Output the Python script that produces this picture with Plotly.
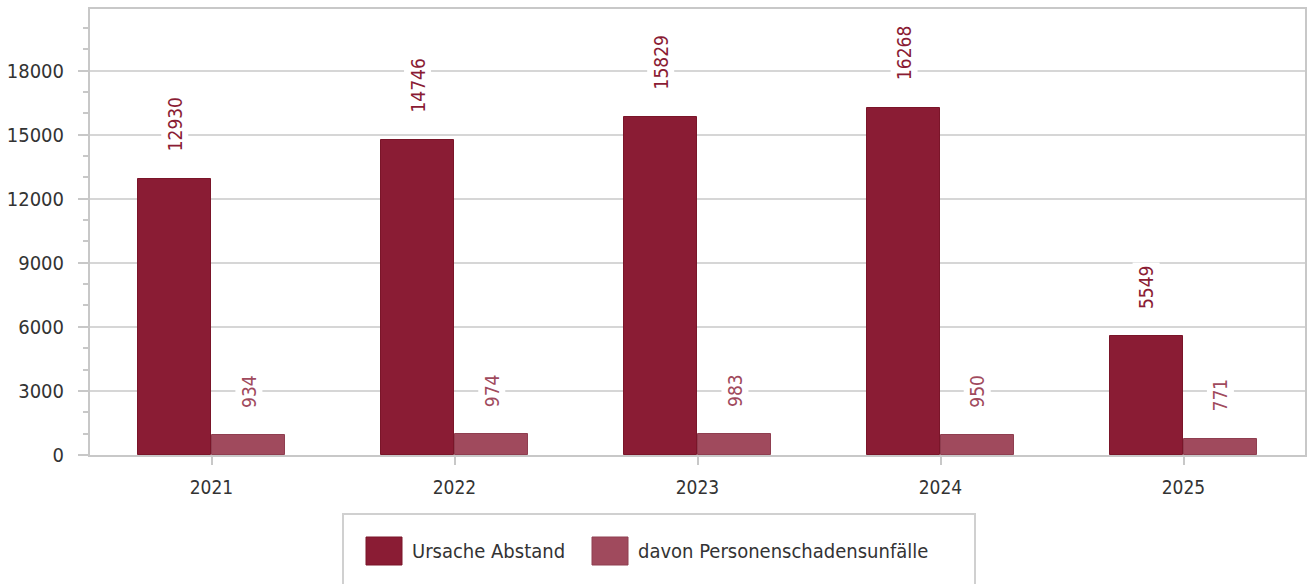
import plotly.graph_objects as go

years = ["2021", "2022", "2023", "2024", "2025"]
ursache_abstand = [12930, 14746, 15829, 16268, 5549]
personenschaden = [934, 974, 983, 950, 771]
series_names = ["Ursache Abstand", "davon Personenschadensunfälle"]
y_ticks = [0, 3000, 6000, 9000, 12000, 15000, 18000]

FONT = "DejaVu Sans Condensed, DejaVu Sans, sans-serif"
C1 = "#8a1c34"
C2 = "#a04a5d"
OFF = 0.152
W = 0.298

idx = list(range(len(years)))
fig = go.Figure()
fig.add_trace(go.Bar(x=[i - OFF for i in idx], y=ursache_abstand, width=W,
                     marker=dict(color=C1, line=dict(color="#7a1529", width=1)),
                     name=series_names[0], showlegend=False))
fig.add_trace(go.Bar(x=[i + OFF for i in idx], y=personenschaden, width=W,
                     marker=dict(color=C2, line=dict(color="#8f3e50", width=1)),
                     name=series_names[1], showlegend=False))

ann = []
for i, v in zip(idx, ursache_abstand):
    ann.append(dict(x=i - OFF, y=v, text=str(v), showarrow=False, textangle=-90,
                    xanchor="center", yanchor="bottom", yshift=24, bgcolor="white",
                    borderpad=2, font=dict(family=FONT, size=19, color=C1)))
for i, v in zip(idx, personenschaden):
    ann.append(dict(x=i + OFF, y=v, text=str(v), showarrow=False, textangle=-90,
                    xanchor="center", yanchor="bottom", yshift=24, bgcolor="white",
                    borderpad=2, font=dict(family=FONT, size=19, color=C2)))

# manual legend (paper coordinates derived from pixel layout)
def px(xp):
    return (xp - 90) / 1215
def py(yp):
    return (455 - yp) / 446

shapes = [
    dict(type="rect", xref="paper", yref="paper", x0=px(343), x1=px(975), y0=py(600), y1=py(514),
         line=dict(color="#d0d0d0", width=2), fillcolor="white", layer="below"),
    dict(type="rect", xref="paper", yref="paper", x0=px(366), x1=px(402), y0=py(565), y1=py(537),
         line=dict(color="#7a1529", width=1), fillcolor=C1),
    dict(type="rect", xref="paper", yref="paper", x0=px(592), x1=px(628), y0=py(565), y1=py(537),
         line=dict(color="#8f3e50", width=1), fillcolor=C2),
]
ann.append(dict(xref="paper", yref="paper", x=px(410), y=py(551), text=series_names[0],
                showarrow=False, xanchor="left", yanchor="middle",
                font=dict(family=FONT, size=20, color="#333333")))
ann.append(dict(xref="paper", yref="paper", x=px(636), y=py(551), text=series_names[1],
                showarrow=False, xanchor="left", yanchor="middle",
                font=dict(family=FONT, size=20, color="#333333")))

fig.update_layout(
    width=1309, height=584,
    margin=dict(l=90, r=4, t=9, b=129, autoexpand=False),
    paper_bgcolor="white", plot_bgcolor="white",
    font=dict(family=FONT, size=19, color="#333333"),
    annotations=ann, shapes=shapes,
    bargap=0, showlegend=False,
)
fig.update_xaxes(range=[-0.5, 4.5], tickvals=idx, ticktext=years,
                 showgrid=False, showline=True, linecolor="#c8c8c8", linewidth=2,
                 ticks="outside", ticklen=8, tickcolor="#c8c8c8", tickwidth=2,
                 mirror=True, zeroline=False, tickfont=dict(size=19), ticklabelstandoff=6)
fig.update_yaxes(range=[0, 20880], tickvals=y_ticks, ticktext=[str(t) for t in y_ticks],
                 showgrid=True, gridcolor="#d6d6d6", gridwidth=2,
                 showline=True, linecolor="#c8c8c8", linewidth=2, mirror=True,
                 ticks="outside", ticklen=10, tickcolor="#c8c8c8", tickwidth=2,
                 zeroline=False, tickfont=dict(size=20), ticklabelstandoff=10,
                 minor=dict(dtick=1000, tick0=0, ticks="outside", ticklen=5,
                            tickcolor="#c8c8c8", tickwidth=2, showgrid=False))
fig.write_html("out.html", config={"displayModeBar": False},
               post_script="document.body.style.margin='0';document.body.style.overflow='hidden';")
